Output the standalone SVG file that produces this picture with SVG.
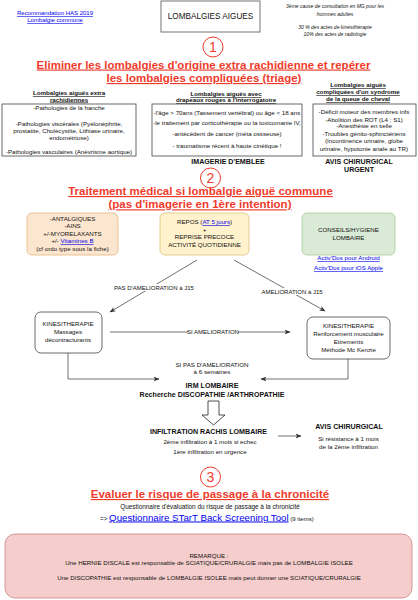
<svg xmlns="http://www.w3.org/2000/svg" width="418" height="600" viewBox="0 0 418 600">
<style>
text{font-family:"Liberation Sans",Arial,sans-serif;fill:#111;}
.t{font-size:6.2px;text-anchor:middle;}
.b{font-weight:bold;}
.u{text-decoration:underline;}
.lk{fill:#0000ee;text-decoration:underline;}
.h{font-size:11.5px;font-weight:bold;fill:#ef3b2c;text-anchor:middle;text-decoration:underline;}
.it{font-size:5px;font-style:italic;text-anchor:middle;}
.num{font-size:14px;fill:#ef3b2c;text-anchor:middle;}
.circ{fill:#fff;stroke:#ef3b2c;stroke-width:1;}
.box{fill:#fff;stroke:#444;stroke-width:0.8;}
.c{fill:none;stroke:#333;stroke-width:0.7;}
.lbl{fill:#fff;}
</style>
<defs>
<marker id="ar" viewBox="0 0 10 10" refX="9" refY="5" markerWidth="6" markerHeight="6" markerUnits="userSpaceOnUse" orient="auto">
<path d="M0,1 L10,5 L0,9 L2.5,5 Z" fill="#333"/>
</marker>
</defs>
<rect width="418" height="600" fill="#fff"/>

<g id="header">
<text class="t lk" x="55" y="15" style="font-size:6px">Recommandation HAS 2019</text>
<text class="t lk" x="55" y="22" style="font-size:6px">Lombalgie commune</text>
</g>
<g id="title">
<rect x="161" y="1" width="99" height="31" fill="#fff" stroke="#666" stroke-width="0.9"/>
<text class="t" x="210.5" y="19" style="font-size:8.2px">LOMBALGIES AIGUES</text>
</g>
<g id="stats">
<text class="it" x="335" y="8">3ème cause de consultation en MG pour les</text>
<text class="it" x="335" y="15.8">hommes adultes</text>
<text class="it" x="335" y="29">30 % des actes de kinésithérapie</text>
<text class="it" x="335" y="36">10% des actes de radiologie</text>
</g>

<g id="step1">
<circle class="circ" cx="213" cy="47" r="10"/>
<text class="num" x="213" y="52">1</text>
<text class="h" x="203.5" y="68.5">Eliminer les lombalgies d'origine extra rachidienne et repérer</text>
<text class="h" x="204" y="82">les lombalgies compliquées (triage)</text>
</g>

<g id="extra-rachidiennes">
<text class="t b u" x="69" y="95.3">Lombalgies aiguës extra</text>
<text class="t b u" x="69" y="101.5">rachidiennes</text>
<rect class="box" x="2" y="104" width="134" height="52"/>
<text class="t" x="69" y="110.4">-Pathologies de la hanche</text>
<text class="t" x="69" y="125.5">-Pathologies viscérales (Pyélonéphrite,</text>
<text class="t" x="69" y="132.8">prostatite, Cholécystite, Lithiase urinaire,</text>
<text class="t" x="69" y="139.6">endométriose)</text>
<text class="t" x="69" y="154">-Pathologies vasculaires (Anévrisme aortique)</text>
</g>

<g id="drapeaux-rouges">
<text class="t b u" x="226" y="96.3">Lombalgies aiguës avec</text>
<text class="t b u" x="226" y="102.4">drapeaux rouges à l'interrogatoire</text>
<rect class="box" x="152" y="104" width="150" height="52"/>
<text class="t" x="227" y="115.3">-l'âge &gt; 70ans (Tassement vertébral) ou âge &lt; 18 ans</text>
<text class="t" x="227" y="125.3">-le traitement par corticothérapie ou la toxicomanie IV,</text>
<text class="t" x="227" y="136.3">-antécédent de cancer (méta ossseuse)</text>
<text class="t" x="227" y="148.3">- traumatisme récent à haute cinétique !</text>
<text class="t b" x="228" y="163.5" style="font-size:7.1px">IMAGERIE D'EMBLEE</text>
</g>

<g id="queue-de-cheval">
<text class="t b u" x="358" y="87.3">Lombalgies aiguës</text>
<text class="t b u" x="358" y="94.3">compliquées d'un syndrome</text>
<text class="t b u" x="358" y="101.3">de la queue de cheval</text>
<rect class="box" x="313" y="104" width="103" height="52"/>
<text class="t" x="364" y="114.4">-Déficit moteur des membres infs</text>
<text class="t" x="364" y="121.5">-Abolition des ROT (L4 ; S1)</text>
<text class="t" x="364" y="128.4">-Anesthésie en selle</text>
<text class="t" x="364" y="135.5">-Troubles génito-sphinctériens</text>
<text class="t" x="364" y="143">(Incontinence urinaire, globe</text>
<text class="t" x="364" y="150.5">urinaire, hypotonie anale au TR)</text>
<text class="t b" x="359" y="163.5" style="font-size:7.1px">AVIS CHIRURGICAL</text>
<text class="t b" x="359" y="171.5" style="font-size:7.1px">URGENT</text>
</g>

<g id="step2">
<circle class="circ" cx="210.5" cy="178" r="10"/>
<text class="num" x="210.5" y="183">2</text>
<text class="h" x="200.5" y="195">Traitement médical si lombalgie aiguë commune</text>
<text class="h" x="200" y="208.3">(pas d'imagerie en 1ère intention)</text>
</g>

<g id="medicaments">
<rect x="27" y="213" width="91" height="42" rx="5" fill="#fde6cf" stroke="#e3b67f" stroke-width="0.8"/>
<text class="t" x="72.5" y="221.2">-ANTALGIQUES</text>
<text class="t" x="72.5" y="228.4">-AINS</text>
<text class="t" x="72.5" y="236.2">+/-MYORELAXANTS</text>
<text class="t" x="72.5" y="243.4">+/- <tspan class="lk">Vitamines B</tspan></text>
<text class="t" x="72.5" y="251.2">(cf ordo type sous la fiche)</text>
</g>

<g id="repos">
<rect x="160" y="213" width="89" height="42" rx="5" fill="#fff2cc" stroke="#dcc27a" stroke-width="0.8"/>
<text class="t" x="204.5" y="224.4">REPOS (<tspan class="lk">AT 5 jours</tspan>)</text>
<text class="t" x="204.5" y="231.8">+</text>
<text class="t" x="204.5" y="239.4">REPRISE PRECOCE</text>
<text class="t" x="204.5" y="247.2">ACTIVITÉ QUOTIDIENNE</text>
</g>

<g id="conseils">
<rect x="302" y="213" width="93" height="42" rx="5" fill="#d9ead6" stroke="#a9cc98" stroke-width="0.8"/>
<text class="t" x="348.5" y="232.2">CONSEILS/HYGIENE</text>
<text class="t" x="348.5" y="240">LOMBAIRE</text>
<text class="t lk" x="348.5" y="260.4">Activ'Dos pour Android</text>
<text class="t lk" x="348.5" y="270.4">Activ'Dos pour iOS Apple</text>
</g>

<g id="connectors">
<path class="c" d="M197,260 L110,312" marker-end="url(#ar)"/>
<path class="c" d="M234,260 L325,311" marker-end="url(#ar)"/>
<path class="c" d="M110,332 L290,332" marker-end="url(#ar)"/>
<path class="c" d="M68,353 L68,379 L159,379" marker-end="url(#ar)"/>
<path class="c" d="M348,359 L348,379 L261,379" marker-end="url(#ar)"/>
<path class="c" d="M278,436 L301,436" marker-end="url(#ar)"/>
<rect class="lbl" x="112" y="284" width="84" height="7"/>
<text class="t" x="154" y="290" style="font-size:6px">PAS D'AMELIORATION à J15</text>
<rect class="lbl" x="259" y="288" width="66" height="7"/>
<text class="t" x="292" y="294.2" style="font-size:6px">AMELIORATION à J15</text>
<rect class="lbl" x="188" y="329" width="50" height="6"/>
<text class="t" x="213" y="334.2" style="font-size:6px">SI AMELIORATION</text>
</g>

<g id="kine-massages">
<rect class="box" x="35" y="312" width="67" height="41" rx="6"/>
<text class="t" x="68" y="326.4">KINESITHERAPIE</text>
<text class="t" x="68" y="334.4">Massages</text>
<text class="t" x="68" y="342.2">décontracturants</text>
</g>

<g id="kine-renforcement">
<rect class="box" x="307" y="317" width="83" height="42" rx="6"/>
<text class="t" x="348.5" y="328.2">KINESITHERAPIE</text>
<text class="t" x="348.5" y="335.5">Renforcement musculaire</text>
<text class="t" x="348.5" y="343.9">Etirements</text>
<text class="t" x="348.5" y="351.5">Méthode Mc Kenzie</text>
</g>

<g id="irm">
<text class="t" x="212" y="367.2">SI PAS D'AMELIORATION</text>
<text class="t" x="212" y="374.4">à 6 semaines</text>
<text class="t b" x="212" y="387.6" style="font-size:7.1px">IRM LOMBAIRE</text>
<text class="t b" x="212" y="396.6" style="font-size:7.1px">Recherche DISCOPATHIE /ARTHROPATHIE</text>
<polygon points="208,401 219,401 219,415 225,415 213.5,425 202,415 208,415" fill="#fff" stroke="#222" stroke-width="0.8"/>
</g>

<g id="infiltration">
<text class="t b" x="208.5" y="433.6" style="font-size:7.1px">INFILTRATION RACHIS LOMBAIRE</text>
<text class="t" x="210" y="444.2">2ème infiltration à 1 mois si echec</text>
<text class="t" x="210" y="454.2">1ère infiltration en urgence</text>
</g>

<g id="avis-chirurgical">
<text class="t b" x="349" y="428.6" style="font-size:7.1px">AVIS CHIRURGICAL</text>
<text class="t" x="348.5" y="441.4">Si résistance à 1 mois</text>
<text class="t" x="348.5" y="449.4">de la 2ème infiltration</text>
</g>

<g id="step3">
<circle class="circ" cx="210.5" cy="477" r="10"/>
<text class="num" x="210.5" y="482">3</text>
<text class="h" x="210" y="498">Evaluer le risque de passage à la chronicité </text>
<text class="t" x="210" y="509.3" style="font-size:6.4px">Questionnaire d'évaluation du risque de passage à la chronicité</text>
<text x="100" y="520.5" style="font-size:6.3px">=&gt; <tspan class="lk" style="font-size:9.7px">Questionnaire STarT Back Screening Tool</tspan> <tspan style="font-size:6px">(9 items)</tspan></text>
</g>

<g id="remarque">
<rect x="5" y="534" width="407" height="64" rx="10" fill="#f4cdcc" stroke="#c98583" stroke-width="0.8"/>
<text class="t" x="209" y="558">REMARQUE :</text>
<text class="t" x="209" y="564.6">Une HERNIE DISCALE est responsable de SCIATIQUE/CRURALGIE mais pas de LOMBALGIE ISOLEE</text>
<text class="t" x="209" y="579.6">Une DISCOPATHIE est responsable de LOMBALGIE ISOLEE mais peut donner une SCIATIQUE/CRURALGIE</text>
</g>
</svg>
